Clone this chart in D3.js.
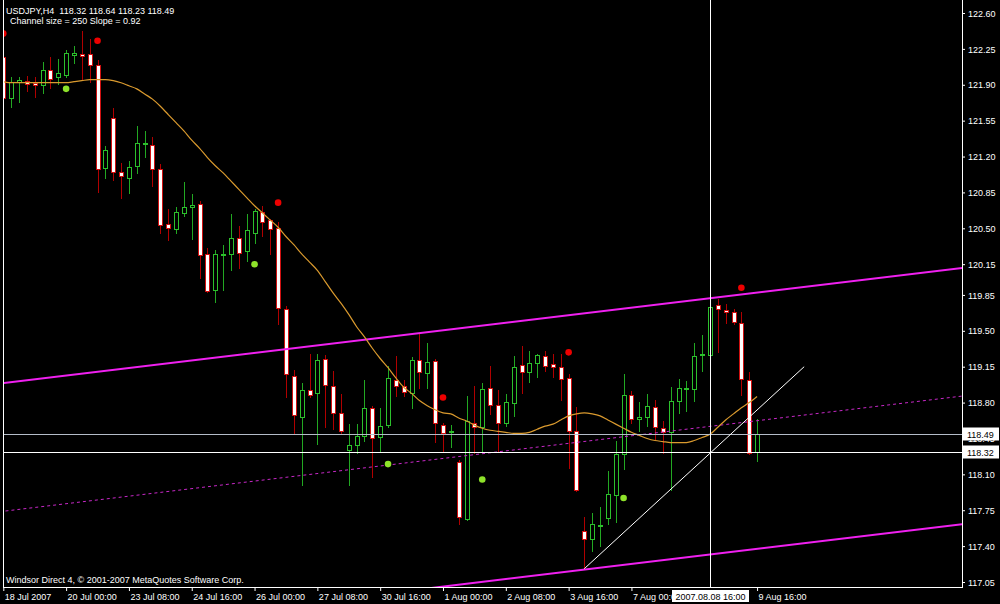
<!DOCTYPE html>
<html><head><meta charset="utf-8">
<script src="https://cdn.jsdelivr.net/npm/d3@7"></script>
<style>
html,body{margin:0;padding:0;background:#000;}
svg{display:block;}
text{font-family:"Liberation Sans",Arial,sans-serif;font-size:9px;fill:#fff;white-space:pre;}
</style>
</head><body>
<svg id="c" width="1000" height="604"></svg>
<script>
// ---------- DATA ----------
const symbol = "USDJPY,H4";
const channelSize = 250;      // pips
const channelSlope = 0.92;    // pips per bar
const channelMidStart = 117.74; // mid-line price at bar 0

const opens = [
 122.17,121.77,121.93,121.94,121.92,121.90,122.04,121.98,122.00,122.19,
 122.20,122.20,122.09,121.09,121.58,121.05,120.99,121.11,121.32,121.31,
 121.08,120.54,120.49,120.65,120.71,120.74,120.25,119.90,120.24,120.25,
 120.41,120.28,120.45,120.66,120.58,120.50,119.71,119.06,118.66,118.92,
 118.89,119.23,118.96,118.70,118.34,118.39,118.47,118.75,118.46,118.58,
 119.02,118.96,118.89,119.22,119.09,119.21,118.58,118.51,118.22,117.66,
 118.60,118.56,118.94,118.78,118.60,118.80,119.17,119.10,119.19,119.25,
 119.18,119.15,119.04,118.52,117.55,117.47,117.60,117.67,117.90,118.30,
 118.87,118.64,118.66,118.76,118.55,118.51,118.82,118.93,118.93,119.26,
 119.26,119.75,119.70,119.68,119.58,119.02,118.32];
const highs = [
 122.22,121.98,121.98,121.99,121.98,122.12,122.17,122.15,122.24,122.28,
 122.42,122.35,122.14,121.30,121.67,121.14,121.16,121.50,121.45,121.39,
 121.13,120.69,120.71,120.95,120.83,120.77,120.31,120.29,120.34,120.64,
 120.52,120.64,120.69,120.72,120.59,120.56,119.74,119.12,118.99,119.27,
 119.27,119.26,119.11,118.88,118.59,118.59,119.02,118.77,118.75,119.16,
 119.25,119.02,119.24,119.47,119.38,119.23,118.60,118.58,118.24,118.86,
 118.96,118.99,119.16,118.92,118.88,119.25,119.35,119.30,119.27,119.30,
 119.27,119.27,119.08,118.76,117.68,117.72,117.78,118.13,118.43,119.08,
 118.91,118.81,118.88,118.83,118.62,118.95,119.03,119.01,119.38,119.46,
 119.76,119.81,119.76,119.71,119.68,119.10,118.64];
const lows = [
 121.65,121.68,121.73,121.84,121.78,121.82,121.87,121.91,121.98,122.11,
 121.96,121.93,120.85,120.99,120.97,120.80,120.84,121.04,121.20,120.91,
 120.45,120.39,120.45,120.62,120.40,120.02,119.88,119.78,119.90,120.09,
 120.11,120.18,120.36,120.42,120.25,119.57,118.85,118.50,118.00,118.85,
 118.40,118.56,118.54,118.49,118.00,118.31,118.43,118.07,118.33,118.56,
 118.86,118.86,118.75,118.94,118.94,118.42,118.33,118.37,117.62,117.65,
 118.31,118.32,118.69,118.32,118.57,118.67,118.89,119.00,119.05,119.11,
 119.05,118.83,118.16,117.94,117.18,117.35,117.40,117.62,117.64,118.15,
 118.60,118.52,118.57,118.44,118.31,117.95,118.70,118.72,118.82,119.11,
 119.24,119.29,119.58,119.57,118.87,118.30,118.23];
const closes = [
 121.77,121.93,121.95,121.91,121.90,122.04,121.96,122.01,122.21,122.21,
 122.18,122.09,121.08,121.26,121.05,121.01,121.10,121.33,121.33,121.08,
 120.53,120.50,120.66,120.71,120.73,120.24,119.89,120.25,120.25,120.41,
 120.26,120.48,120.67,120.56,120.49,119.72,119.08,118.68,118.92,118.87,
 119.22,118.97,118.70,118.52,118.39,118.47,118.75,118.45,118.57,119.04,
 118.96,118.90,119.22,119.10,119.20,118.60,118.50,118.52,117.68,118.62,
 118.56,118.93,118.78,118.60,118.81,119.15,119.10,119.19,119.26,119.16,
 119.15,119.03,118.52,117.95,117.47,117.62,117.61,117.91,118.30,118.87,
 118.64,118.66,118.77,118.56,118.51,118.82,118.94,118.94,119.25,119.27,
 119.73,119.71,119.68,119.59,119.03,118.31,118.49];
// smoothed moving average (orange)
const maValues = [
 121.93,121.92,121.92,121.92,121.92,121.92,121.92,121.92,121.92,121.93,
 121.94,121.95,121.95,121.95,121.94,121.92,121.89,121.86,121.81,121.76,
 121.69,121.61,121.53,121.45,121.36,121.28,121.19,121.11,121.04,120.96,
 120.88,120.80,120.72,120.65,120.58,120.51,120.42,120.34,120.25,120.17,
 120.09,119.98,119.87,119.77,119.66,119.54,119.44,119.33,119.23,119.14,
 119.04,118.95,118.89,118.82,118.77,118.73,118.70,118.69,118.65,118.62,
 118.58,118.55,118.53,118.52,118.51,118.50,118.50,118.51,118.54,118.57,
 118.59,118.63,118.67,118.69,118.70,118.69,118.67,118.63,118.59,118.55,
 118.51,118.48,118.45,118.43,118.42,118.41,118.41,118.41,118.43,118.46,
 118.49,118.56,118.63,118.69,118.75,118.80,118.86];
// fractal-style dots: [bar index, price]
const redDots = [[0,122.40],[12,122.33],[35,120.75],[56,118.85],[72,119.29],[94,119.92]];
const greenDots = [[8,121.86],[32,120.15],[49,118.20],[61,118.05],[79,117.87]];
// trendline [bar, price]
const trendPoints = [[74,117.18],[102,119.15]];
// crosshair
const crossBar = 90, crossPrice = 118.32, crossLabel = "2007.08.08 16:00";
// axis labels
const yTicks = [122.60,122.25,121.90,121.55,121.20,120.85,120.50,120.15,119.85,119.50,119.15,118.80,118.45,118.10,117.75,117.40,117.05];
const xTickBars = [0,8,16,24,32,40,48,56,64,72,80,96];
const xTickLabels = ["18 Jul 2007","20 Jul 00:00","23 Jul 08:00","24 Jul 16:00","26 Jul 00:00","27 Jul 08:00","30 Jul 16:00","1 Aug 00:00","2 Aug 08:00","3 Aug 16:00","7 Aug 00:00","9 Aug 16:00"];
const footer = "Windsor Direct 4, \u00A9 2001-2007 MetaQuotes Software Corp.";

// ---------- CHART ----------
const W = 1000, H = 604;
const PL = 3, PR = 962, PT = 0, PB = 587;
const x = d3.scaleLinear().domain([0, 122.1]).range([3.3, 962]);
const y = d3.scaleLinear().domain([122.60, 117.05]).range([13, 582]);
const px = v => Math.round(v) + 0.5;

const svg = d3.select("#c");
svg.append("rect").attr("width", W).attr("height", H).attr("fill", "#000");
svg.append("defs").append("clipPath").attr("id", "clip")
  .append("rect").attr("x", PL + 1).attr("y", PT).attr("width", PR - PL - 1).attr("height", PB - PT);
const g = svg.append("g").attr("clip-path", "url(#clip)");

// candles
const bars = d3.range(opens.length).map(i => ({i, o: opens[i], h: highs[i], l: lows[i], c: closes[i]}));
const cg = g.append("g");
cg.selectAll("line.wick").data(bars).join("line").attr("class", "wick")
  .attr("x1", d => px(x(d.i))).attr("x2", d => px(x(d.i)))
  .attr("y1", d => Math.round(y(d.h))).attr("y2", d => Math.round(y(d.l)) + 1)
  .attr("stroke", d => d.c >= d.o ? "#22A822" : "#B00000").attr("stroke-width", 1);
cg.selectAll("rect.body").data(bars).join("rect").attr("class", "body")
  .attr("x", d => Math.round(x(d.i)) - 2 + 0.5)
  .attr("y", d => Math.round(y(Math.max(d.o, d.c))) + 0.5)
  .attr("width", 4)
  .attr("height", d => Math.max(0, Math.round(y(Math.min(d.o, d.c))) - Math.round(y(Math.max(d.o, d.c)))))
  .attr("fill", d => d.c >= d.o ? "#000" : "#fff")
  .attr("stroke", d => d.c >= d.o ? "#2CC02C" : "#D01010").attr("stroke-width", 1);

// channel lines
const half = channelSize / 100 / 2, slope = channelSlope / 100;
const chan = off => [-2, 125].map(b => [b, channelMidStart + off + slope * b]);
const lineGen = d3.line().x(d => x(d[0])).y(d => y(d[1]));
g.append("path").attr("d", lineGen(chan(half))).attr("stroke", "#F020F0").attr("stroke-width", 2).attr("fill", "none");
g.append("path").attr("d", lineGen(chan(-half))).attr("stroke", "#F020F0").attr("stroke-width", 2).attr("fill", "none");
g.append("path").attr("d", lineGen(chan(0))).attr("stroke", "#C828C8").attr("stroke-width", 1).attr("stroke-dasharray", "3,3").attr("fill", "none");

// moving average
g.append("path").datum(maValues)
  .attr("d", d3.line().x((d, i) => x(i)).y(d => y(d)).curve(d3.curveMonotoneX))
  .attr("stroke", "#DA9A2E").attr("stroke-width", 1.2).attr("fill", "none");

// bid line (last close)
const lastClose = closes[closes.length - 1];
g.append("line").attr("x1", PL).attr("x2", PR).attr("y1", px(y(lastClose))).attr("y2", px(y(lastClose)))
  .attr("stroke", "#B4BCC8").attr("stroke-width", 1);

// trendline
g.append("path").attr("d", lineGen(trendPoints)).attr("stroke", "#fff").attr("stroke-width", 1).attr("fill", "none");

// crosshair
g.append("line").attr("x1", PL).attr("x2", PR).attr("y1", px(y(crossPrice))).attr("y2", px(y(crossPrice))).attr("stroke", "#fff");
svg.append("line").attr("x1", px(x(crossBar))).attr("x2", px(x(crossBar))).attr("y1", 0).attr("y2", PB).attr("stroke", "#fff");

// dots
g.selectAll("circle.red").data(redDots).join("circle").attr("class", "red")
  .attr("cx", d => x(d[0])).attr("cy", d => y(d[1])).attr("r", 3.3).attr("fill", "#EE0000");
g.selectAll("circle.grn").data(greenDots).join("circle").attr("class", "grn")
  .attr("cx", d => x(d[0])).attr("cy", d => y(d[1])).attr("r", 3.3).attr("fill", "#8EE22A");

// frame
svg.append("line").attr("x1", PL + 0.5).attr("x2", PL + 0.5).attr("y1", 0).attr("y2", PB + 1).attr("stroke", "#fff");
svg.append("line").attr("x1", PR + 0.5).attr("x2", PR + 0.5).attr("y1", 0).attr("y2", PB + 1).attr("stroke", "#fff");
svg.append("line").attr("x1", PL).attr("x2", PR + 1).attr("y1", PB + 0.5).attr("y2", PB + 0.5).attr("stroke", "#fff");

// y axis
const ya = svg.append("g").attr("transform", `translate(${PR},0)`)
  .call(d3.axisRight(y).tickValues(yTicks).tickSize(3).tickFormat(d3.format(".2f")));
ya.select(".domain").remove();
ya.selectAll(".tick line").attr("stroke", "#fff").attr("x1", 1);
ya.selectAll(".tick text").attr("x", 6).attr("dy", "0.35em").attr("fill", "#fff")
  .style("font-family", "Liberation Sans, Arial, sans-serif").style("font-size", "9px");

// x axis
const xa = svg.append("g").attr("transform", `translate(0,${PB})`)
  .call(d3.axisBottom(x).tickValues(xTickBars).tickSize(4).tickFormat((d, i) => xTickLabels[i]));
xa.select(".domain").remove();
xa.selectAll(".tick line").attr("stroke", "#fff").attr("y1", 1);
xa.selectAll(".tick text").attr("text-anchor", "start").attr("x", 1).attr("y", 13).attr("dy", 0)
  .attr("fill", "#fff").style("font-family", "Liberation Sans, Arial, sans-serif").style("font-size", "9px");

// price labels on axis
function priceBox(p) {
  const yy = Math.round(y(p));
  svg.append("rect").attr("x", PR + 1).attr("y", yy - 6.5).attr("width", 36).attr("height", 13).attr("fill", "#fff");
  svg.append("text").attr("x", PR + 5).attr("y", yy + 3.5).text(d3.format(".2f")(p)).style("fill", "#000");
}
priceBox(lastClose);
priceBox(crossPrice);

// crosshair date label
const cxp = Math.round(x(crossBar));
svg.append("rect").attr("x", cxp - 38).attr("y", 590).attr("width", 77).attr("height", 12).attr("fill", "#fff");
svg.append("text").attr("x", cxp + 0.5).attr("y", 600).attr("text-anchor", "middle").text(crossLabel).style("fill", "#000");

// header texts
const f2 = d3.format(".2f");
const li = closes.length - 1;
svg.append("text").attr("x", 6).attr("y", 14)
  .text(`${symbol}  ${f2(opens[li])} ${f2(highs[li])} ${f2(lows[li])} ${f2(closes[li])}`);
svg.append("text").attr("x", 10).attr("y", 24)
  .text(`Channel size = ${channelSize} Slope = ${channelSlope.toFixed(2)}`);
svg.append("text").attr("x", 6).attr("y", 583).text(footer);
</script>
</body></html>
